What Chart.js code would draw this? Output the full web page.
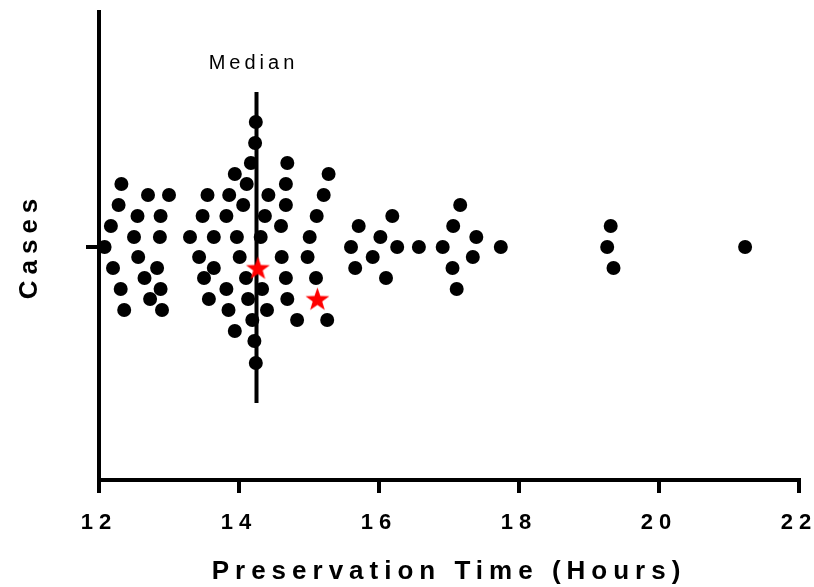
<!DOCTYPE html>
<html>
<head>
<meta charset="utf-8">
<script src="https://cdn.jsdelivr.net/npm/chart.js@4.4.1/dist/chart.umd.min.js"></script>
<style>
  html, body { margin: 0; padding: 0; background: #fff; }
  canvas { display: block; }
</style>
</head>
<body>
<canvas id="swarm" width="814" height="587"></canvas>
<script>
"use strict";

// tick values on the time axis
const xTicks = [12, 14, 16, 18, 20, 22];

// median of preservation time, and how far its marker line reaches up/down
const medianHours = 14.25;
const medianSpan = [15.5, -15.6];

// black dots: preservation time (hours) and swarm offset
const dotHours = [
    14.24, 14.23, 14.17, 14.69, 13.94, 15.28, 12.32, 14.11, 14.67,
    12.70, 13.00, 13.55, 13.86, 14.42, 15.21,
    12.28, 14.06, 14.67,
    12.55, 12.88, 13.48, 13.82, 14.37, 15.11,
    12.17, 14.60,
    12.50, 12.87, 13.30, 13.64, 13.97, 14.31, 15.01,
    12.08,
    12.56, 13.43, 14.01, 14.61, 14.98,
    12.20, 12.83, 13.64,
    12.65, 13.50, 14.10, 14.67, 15.10,
    12.31, 12.88, 13.82, 14.33,
    12.73, 13.57, 14.13, 14.69,
    12.36, 12.90, 13.85, 14.40,
    14.19, 14.83, 15.26,
    13.94, 14.22, 14.24,
    17.16, 16.19, 15.71, 17.06, 16.02, 17.39,
    15.60, 16.26, 16.57, 16.91, 17.74,
    15.91, 17.34, 15.66, 17.05, 16.10, 17.11,
    19.31, 19.26, 19.35, 21.23
];
const dotOffsets = [
    12.5, 10.4, 8.4, 8.4, 7.3, 7.3, 6.3, 6.3, 6.3,
    5.2, 5.2, 5.2, 5.2, 5.2, 5.2,
    4.2, 4.2, 4.2,
    3.1, 3.1, 3.1, 3.1, 3.1, 3.1,
    2.1, 2.1,
    1.0, 1.0, 1.0, 1.0, 1.0, 1.0, 1.0,
    0,
    -1.0, -1.0, -1.0, -1.0, -1.0,
    -2.1, -2.1, -2.1,
    -3.1, -3.1, -3.1, -3.1, -3.1,
    -4.2, -4.2, -4.2, -4.2,
    -5.2, -5.2, -5.2, -5.2,
    -6.3, -6.3, -6.3, -6.3,
    -7.3, -7.3, -7.3,
    -8.4, -9.4, -11.6,
    4.2, 3.1, 2.1, 2.1, 1.0, 1.0,
    0, 0, 0, 0, 0,
    -1.0, -1.0, -2.1, -2.1, -3.1, -4.2,
    2.1, 0, -2.1, 0
];

// red stars
const starHours = [14.27, 15.12];
const starOffsets = [-2.2, -5.3];

const FONT = "'Liberation Sans', Arial, Helvetica, sans-serif";
Chart.defaults.font.family = FONT;
Chart.defaults.color = "#000";

const makeStar = (outer, inner, color) => {
    const size = Math.ceil(outer * 2) + 2;
    const c = document.createElement("canvas");
    c.width = size;
    c.height = size;
    const g = c.getContext("2d");
    g.fillStyle = color;
    g.beginPath();
    for (let i = 0; i < 10; i++) {
        const r = i % 2 === 0 ? outer : inner;
        const a = -Math.PI / 2 + i * Math.PI / 5;
        const px = size / 2 + r * Math.cos(a);
        const py = size / 2 + r * Math.sin(a);
        if (i === 0) g.moveTo(px, py); else g.lineTo(px, py);
    }
    g.closePath();
    g.fill();
    return c;
};
const starImg = makeStar(12.5, 5, "#ff0000");

const medianLabel = {
    id: "medianLabel",
    beforeDraw(chart) {
        chart.ctx.letterSpacing = "6px";
    },
    afterDatasetsDraw(chart) {
        const {ctx, scales} = chart;
        const x = scales.x.getPixelForValue(medianHours);
        const top = scales.y.getPixelForValue(medianSpan[0]);
        ctx.save();
        ctx.letterSpacing = "4px";
        ctx.font = "20px " + FONT;
        ctx.fillStyle = "#000";
        ctx.textAlign = "center";
        ctx.textBaseline = "middle";
        ctx.fillText("Median", x - 3, top - 29);
        ctx.restore();
    }
};

const axisGrid = {
    drawOnChartArea: false,
    color: "#000",
    lineWidth: 4,
    tickLength: 13,
};

new Chart(document.getElementById("swarm"), {
    type: "scatter",
    data: {
        datasets: [
            {
                type: "line",
                data: medianSpan.map(v => ({x: medianHours, y: v})),
                borderColor: "#000",
                borderWidth: 4,
                pointRadius: 0,
                order: 2,
            },
            {
                data: dotHours.map((h, i) => ({x: h, y: dotOffsets[i]})),
                backgroundColor: "#000",
                borderWidth: 0,
                pointRadius: 7,
                order: 1,
            },
            {
                data: starHours.map((h, i) => ({x: h, y: starOffsets[i]})),
                pointStyle: starImg,
                order: 0,
            },
        ],
    },
    options: {
        responsive: false,
        animation: false,
        layout: {
            padding: {top: 12, right: 15, left: 0, bottom: 0},
        },
        plugins: {
            legend: {display: false},
            tooltip: {enabled: false},
        },
        scales: {
            x: {
                type: "linear",
                min: 12,
                max: 22,
                afterBuildTicks: s => { s.ticks = xTicks.map(v => ({value: v})); },
                afterFit: s => {
                    s.height = 107;
                    s.paddingLeft = 0;
                    s.paddingRight = 0;
                },
                ticks: {
                    color: "#000",
                    padding: 17,
                    font: {size: 22, weight: "bold"},
                },
                grid: axisGrid,
                border: {color: "#000", width: 4},
                title: {
                    display: true,
                    text: "Preservation Time (Hours)",
                    color: "#000",
                    padding: 0,
                    font: {size: 26, weight: "bold"},
                },
            },
            y: {
                type: "linear",
                min: -23.3,
                max: 23.5,
                afterBuildTicks: s => { s.ticks = [{value: 0}]; },
                afterFit: s => {
                    s.width = 99;
                    s.paddingTop = 0;
                    s.paddingBottom = 0;
                },
                ticks: {display: false},
                grid: axisGrid,
                border: {color: "#000", width: 4},
                title: {
                    display: true,
                    text: "Cases",
                    color: "#000",
                    padding: {top: 14, bottom: 0},
                    font: {size: 26, weight: "bold"},
                },
            },
        },
    },
    plugins: [medianLabel],
});
</script>
</body>
</html>
